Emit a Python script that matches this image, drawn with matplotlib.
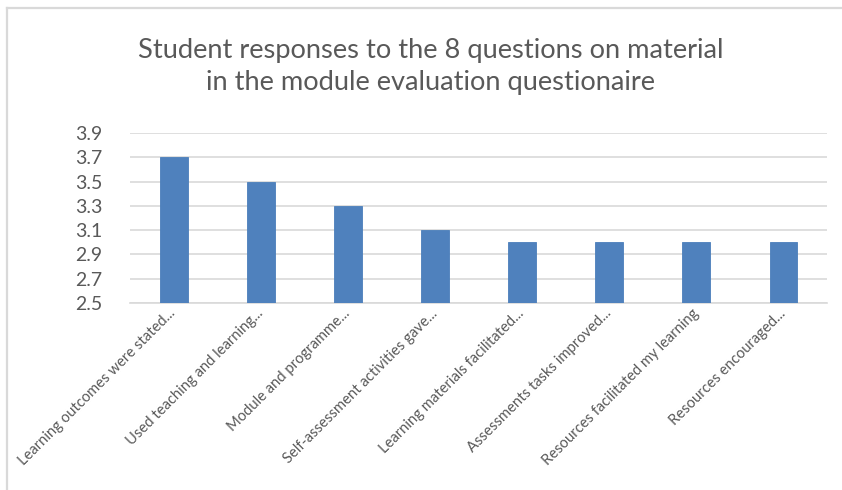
import matplotlib.pyplot as plt
from matplotlib.lines import Line2D
import numpy as np

plt.rcParams["font.family"] = ["Lato", "DejaVu Sans"]

questions = [
    "Learning outcomes were stated...",
    "Used teaching and learning...",
    "Module and programme...",
    "Self-assessment activities gave...",
    "Learning materials facilitated...",
    "Assessments tasks improved...",
    "Resources facilitated my learning",
    "Resources encouraged...",
]
scores = [3.7, 3.5, 3.3, 3.1, 3.0, 3.0, 3.0, 3.0]
y_ticks = [2.5, 2.7, 2.9, 3.1, 3.3, 3.5, 3.7, 3.9]

text_color = "#595959"
grid_color = "#D9D9D9"
bar_color = "#4F81BD"

fig = plt.figure(figsize=(8.42, 4.90), dpi=100)
ax = fig.add_axes([0.1544, 0.3816, 0.8278, 0.347])

x = np.arange(len(questions))
ax.bar(x, scores, width=0.32, color=bar_color, edgecolor="#4A7EBB", linewidth=0.6, zorder=3)

ax.set_xlim(-0.5, len(questions) - 0.5)
ax.set_ylim(y_ticks[0], y_ticks[-1])
ax.set_yticks(y_ticks)
ax.set_yticklabels([f"{v:.1f}" for v in y_ticks], fontsize=14, color=text_color)
ax.yaxis.grid(True, color=grid_color, linewidth=1.2, zorder=0)
ax.tick_params(axis="y", length=0, pad=20)
ax.tick_params(axis="x", length=0)
for side in ("top", "right", "left"):
    ax.spines[side].set_visible(False)
ax.spines["bottom"].set_color(grid_color)
ax.spines["bottom"].set_linewidth(1.2)

ax.set_xticks(x)
ax.set_xticklabels(questions, rotation=45, ha="right", va="center",
                   rotation_mode="anchor", fontsize=10.6, color=text_color)
for label in ax.get_xticklabels():
    label.set_y(-0.02)
    label.set_x(label.get_position()[0] + 0.18)

fig.text(0.511, 0.865,
         "Student responses to the 8 questions on material\nin the module evaluation questionaire",
         ha="center", va="center", fontsize=19.6, color=text_color, linespacing=1.35)

# chart frame (only top and left edges show in the cropped screenshot)
fig.add_artist(Line2D([7 / 842, 1], [1 - 8 / 490, 1 - 8 / 490],
                      transform=fig.transFigure, color=grid_color, linewidth=1.6))
fig.add_artist(Line2D([7 / 842, 7 / 842], [0, 1 - 8 / 490],
                      transform=fig.transFigure, color=grid_color, linewidth=1.6))

fig.savefig("out.png", dpi=100, facecolor="white")
